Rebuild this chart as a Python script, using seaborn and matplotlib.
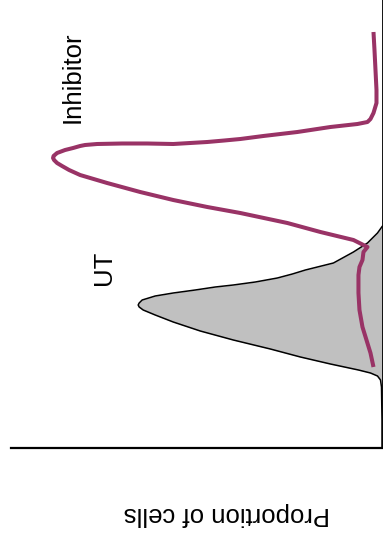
import matplotlib
matplotlib.use("Agg")
import matplotlib.pyplot as plt
import seaborn as sns
import pandas as pd

# UT (untreated) distribution: signal level vs proportion of cells
ut_signal = [0, 28, 61, 68, 72, 75, 78, 84, 91, 99, 108, 117, 126, 133, 138, 141, 143,
             145, 148, 152, 155, 158, 161, 163, 166, 170, 174, 178, 185, 196, 205, 215, 222]
ut_density = [0.5, 0.5, 1, 2, 5, 12, 24, 52, 82, 112, 149, 182, 209, 227, 239, 243, 244,
              243, 240, 227, 209, 187, 167, 149, 127, 105, 90, 77, 49, 29, 15, 5, 0]

# Inhibitor-treated distribution
inh_signal = [81, 95, 108, 121, 138, 155, 173, 181, 188, 196, 201, 208, 216, 225, 235,
              241, 248, 256, 265, 273, 278, 282, 285, 288, 290, 292, 295, 298, 300, 302,
              303, 304, 304.5, 304.5, 304, 305, 306, 307.5, 309, 312, 316, 321, 324, 326,
              329, 335, 345, 358, 378, 398, 416]
inh_density = [9, 12, 16, 20, 23, 24, 24, 23, 20, 19, 15, 29, 62, 95, 142,
               175, 209, 242, 275, 302, 313, 320, 325, 328, 329, 328.5, 325, 317, 309, 302,
               297, 285, 260, 235, 209, 192, 175, 158, 142, 119, 85, 52, 25, 15,
               12, 9, 6, 6, 7, 8, 9]

labels = ["UT", "Inhibitor"]
y_label = "Proportion of cells"

sns.set_style("white")
plt.rcParams["font.family"] = ["Liberation Sans", "DejaVu Sans"]

fig = plt.figure(figsize=(3.83, 5.37), dpi=100)
ax = fig.add_axes([11 / 383, 89 / 537, 371.5 / 383, 448 / 537])

ut = pd.DataFrame({"signal": ut_signal, "density": ut_density})
inh = pd.DataFrame({"signal": inh_signal, "density": inh_density})

ax.fill_betweenx(ut["signal"], 0, ut["density"], color="#c0c0c0", lw=0, zorder=1)
sns.lineplot(data=ut, x="density", y="signal", sort=False, estimator=None,
             color="black", lw=1.1, ax=ax, zorder=2)
sns.lineplot(data=inh, x="density", y="signal", sort=False, estimator=None,
             color="#993366", lw=2.9, ax=ax, zorder=3)
for l in ax.lines:
    l.set_solid_joinstyle("round")
ax.lines[-1].set_solid_capstyle("butt")

ax.set_xlim(371, 0)
ax.set_ylim(0, 448)
ax.set_xticks([])
ax.set_yticks([])
ax.set_xlabel("")
ax.set_ylabel("")
ax.spines["left"].set_visible(False)
ax.spines["top"].set_visible(False)
ax.spines["bottom"].set_linewidth(1.6)
ax.spines["right"].set_linewidth(1.3)
for s in ("bottom", "right"):
    ax.spines[s].set_color("black")

fig.text(73 / 383, 1 - 77 / 537, labels[1], rotation=90, fontsize=18.5,
         ha="center", va="center", color="black")
fig.text(104 / 383, 1 - 268 / 537, labels[0], rotation=90, fontsize=18.5,
         ha="center", va="center", color="black")
fig.text(227 / 383, 1 - 514 / 537, y_label, rotation=180, fontsize=18.5,
         ha="center", va="center", color="black")

fig.savefig("out.png", dpi=100)
